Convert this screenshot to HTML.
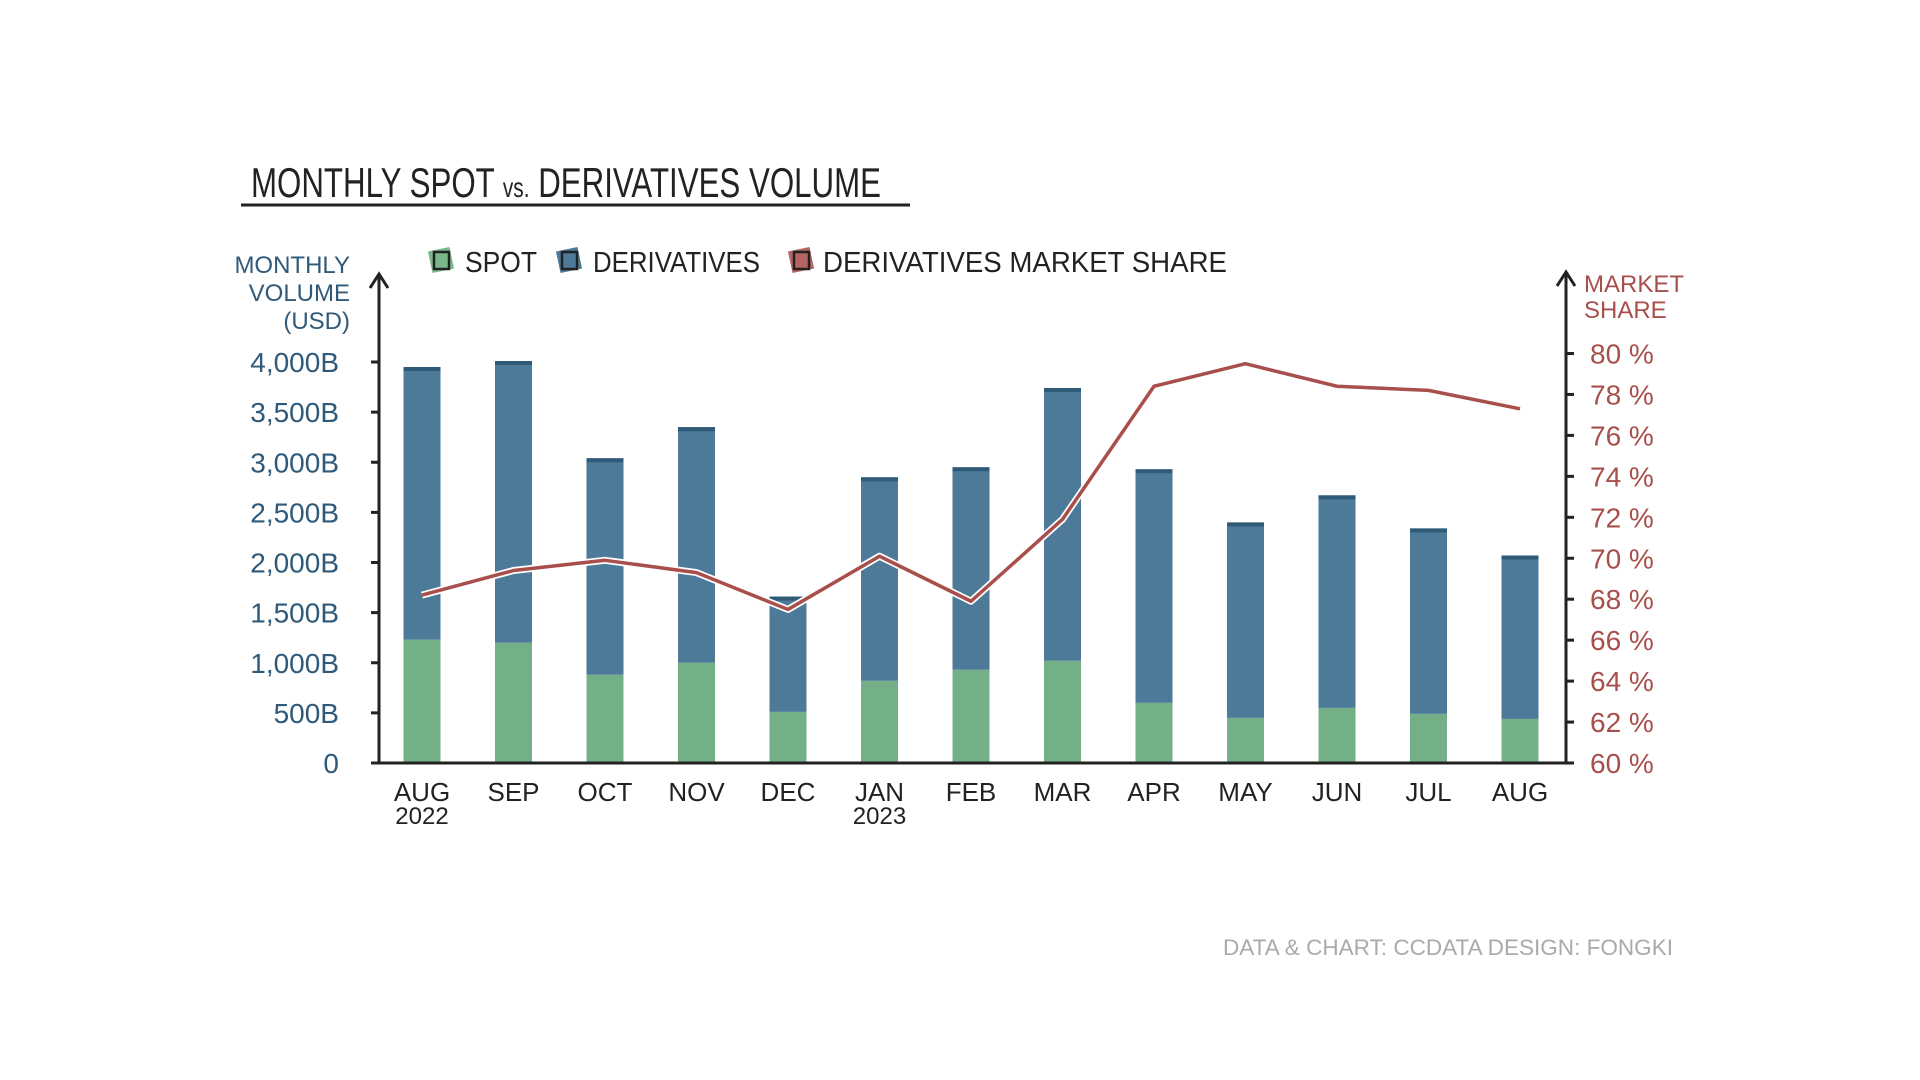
<!DOCTYPE html>
<html><head><meta charset="utf-8">
<style>
html,body{margin:0;padding:0;background:#fff;}
svg{display:block;}
text{font-family:"Liberation Sans Narrow","Liberation Sans",sans-serif;}
</style></head>
<body>
<svg id="chart" width="1920" height="1080" viewBox="0 0 1920 1080">
  <text x="251" y="197" font-size="42" fill="#222" textLength="630" lengthAdjust="spacingAndGlyphs">MONTHLY SPOT <tspan font-size="28">vs.</tspan> DERIVATIVES VOLUME</text>
  <line x1="241" y1="205" x2="910" y2="205" stroke="#222" stroke-width="3"/>
  <g>
    <g>
      <rect x="430" y="249" width="22" height="22" fill="#7ab88c" transform="rotate(-12 441 260)"/>
      <rect x="434" y="252" width="15" height="17" fill="none" stroke="#222" stroke-width="2.5"/>
      <text x="465" y="272" font-size="29" fill="#222" textLength="72" lengthAdjust="spacingAndGlyphs">SPOT</text>
    </g>
    <g>
      <rect x="558" y="249" width="22" height="22" fill="#4e7a99" transform="rotate(-12 569 260)"/>
      <rect x="562" y="252" width="15" height="17" fill="none" stroke="#222" stroke-width="2.5"/>
      <text x="593" y="272" font-size="29" fill="#222" textLength="167" lengthAdjust="spacingAndGlyphs">DERIVATIVES</text>
    </g>
    <g>
      <rect x="790" y="249" width="22" height="22" fill="#b56462" transform="rotate(-12 801 260)"/>
      <rect x="794" y="252" width="15" height="17" fill="none" stroke="#222" stroke-width="2.5"/>
      <text x="823" y="272" font-size="29" fill="#222" textLength="404" lengthAdjust="spacingAndGlyphs">DERIVATIVES MARKET SHARE</text>
    </g>
  </g>
  <g fill="#2f5a7a" font-size="24" text-anchor="end">
    <text x="350" y="273">MONTHLY</text>
    <text x="350" y="301">VOLUME</text>
    <text x="350" y="329">(USD)</text>
  </g>
  <g fill="#a84f4c" font-size="24">
    <text x="1584" y="292">MARKET</text>
    <text x="1584" y="318">SHARE</text>
  </g>
  <g id="bars"></g>
  <g id="line"></g>
  <g id="axes"></g>
  <text x="1223" y="955" font-size="22" fill="#aaa" textLength="450" lengthAdjust="spacingAndGlyphs">DATA &amp; CHART: CCDATA    DESIGN: FONGKI</text>
</svg>
<script>
const months = ["AUG","SEP","OCT","NOV","DEC","JAN","FEB","MAR","APR","MAY","JUN","JUL","AUG"];
const years = ["2022","","","","","2023","","","","","","",""];
const spot = [1230,1200,880,1000,510,820,930,1020,600,450,550,490,440];
const derivatives = [2720,2810,2160,2350,1150,2030,2020,2720,2330,1950,2120,1850,1630];
const share = [68.2,69.4,69.9,69.3,67.5,70.1,67.9,71.9,78.4,79.5,78.4,78.2,77.3];
const volTicks = [0,500,1000,1500,2000,2500,3000,3500,4000];
const volTickLabels = ["0","500B","1,000B","1,500B","2,000B","2,500B","3,000B","3,500B","4,000B"];
const shareTicks = [60,62,64,66,68,70,72,74,76,78,80];

const NS="http://www.w3.org/2000/svg";
const X0=379, X1=1566, Y0=763;
const yV=v=>Y0-v*(763-362)/4000;
const yS=s=>Y0-(s-60)*(763-353.5)/20;
const xC=i=>422+i*91.5;
const BW=37;
function mk(tag,attrs,parent){const e=document.createElementNS(NS,tag);for(const k in attrs)e.setAttribute(k,attrs[k]);parent.appendChild(e);return e;}
const bars=document.getElementById('bars'), line=document.getElementById('line'), axes=document.getElementById('axes');

months.forEach((m,i)=>{
  const x=xC(i)-BW/2;
  const s=mk('rect',{x:x,y:yV(spot[i]),width:BW,height:Y0-yV(spot[i]),fill:'#74b087'},bars);
  
  
  const tot=spot[i]+derivatives[i];
  const d=mk('rect',{x:x,y:yV(tot),width:BW,height:yV(spot[i])-yV(tot),fill:'#4e7a99'},bars);
  
  
  const cap=mk('rect',{x:x,y:yV(tot),width:BW,height:4,fill:'#2f5a78'},bars);
  
  
  const t=mk('text',{x:xC(i),y:801,'font-size':26,fill:'#222','text-anchor':'middle'},axes);
  t.textContent=m;
  
  
  if(years[i]){
    const y=mk('text',{x:xC(i),y:824,'font-size':24,fill:'#222','text-anchor':'middle'},axes);
    y.textContent=years[i];
    
    
  }
});
const pts=share.map((s,i)=>xC(i)+','+yS(s)).join(' ');
const halo=mk('polyline',{points:pts,fill:'none',stroke:'#fff','stroke-width':7,'stroke-linejoin':'round'},line);


const pl=mk('polyline',{points:pts,fill:'none',stroke:'#a84f4c','stroke-width':3.5,'stroke-linejoin':'round'},line);



const la=mk('path',{d:`M${X0} ${Y0} L${X0} 276 M${X0-9} 288 L${X0} 274 L${X0+9} 288`,fill:'none',stroke:'#222','stroke-width':3},axes);


const ra=mk('path',{d:`M${X1} ${Y0} L${X1} 274 M${X1-9} 286 L${X1} 272 L${X1+9} 286`,fill:'none',stroke:'#222','stroke-width':3},axes);


const bl=mk('line',{x1:X0,y1:Y0,x2:X1,y2:Y0,stroke:'#222','stroke-width':3},axes);


volTicks.forEach((v,i)=>{
  mk('line',{x1:X0-8,y1:yV(v),x2:X0,y2:yV(v),stroke:'#222','stroke-width':3},axes);
  const t=mk('text',{x:339,y:yV(v)+10,'font-size':28,fill:'#2f5a7a','text-anchor':'end'},axes);
  t.textContent=volTickLabels[i];
  
  
});
shareTicks.forEach((s,i)=>{
  mk('line',{x1:X1,y1:yS(s),x2:X1+8,y2:yS(s),stroke:'#222','stroke-width':3},axes);
  const t=mk('text',{x:1590,y:yS(s)+10,'font-size':28,fill:'#a84f4c'},axes);
  t.textContent=s+' %';
  
  
});
</script>
</body></html>
